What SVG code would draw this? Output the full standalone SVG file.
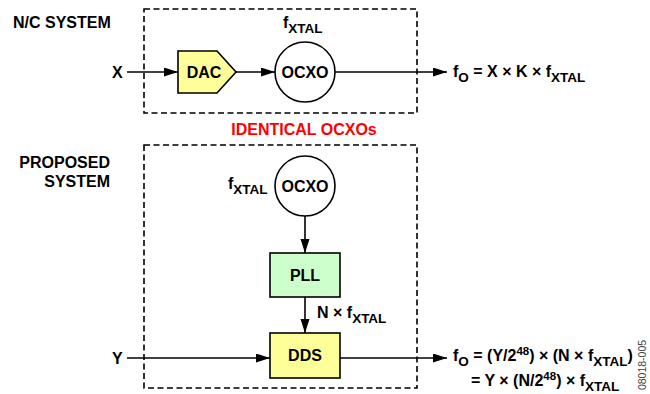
<svg xmlns="http://www.w3.org/2000/svg" width="650" height="394" viewBox="0 0 650 394">
<defs>
<marker id="ah" markerUnits="userSpaceOnUse" markerWidth="14" markerHeight="10" refX="14" refY="4.5" orient="auto">
<path d="M0,0 L14,4.5 L0,9 z" fill="#000"/>
</marker>
<style>
text{font-family:"Liberation Sans",Arial,sans-serif;font-weight:bold;font-size:16px;fill:#000}
.sub{font-size:13.5px}
.sup{font-size:11.5px}
.box{fill:none;stroke:#000;stroke-width:1.6;stroke-dasharray:6 3.5}
.node{stroke:#000;stroke-width:1.6}
.wire{fill:none;stroke:#000;stroke-width:1.6;marker-end:url(#ah)}
.c{text-anchor:middle}
</style>
</defs>
<rect fill="#fff" x="0" y="0" width="650" height="394"/>

<g id="nc-system-frame">
<rect class="box" x="144" y="9" width="273" height="104"/>
<text x="13" y="28">N/C SYSTEM</text>
</g>
<g id="proposed-system-frame">
<rect class="box" x="144" y="145" width="273" height="243"/>
<text x="110" y="168" text-anchor="end">PROPOSED</text>
<text x="110" y="187" text-anchor="end">SYSTEM</text>
</g>
<text x="304" y="135" class="c" style="fill:#ff0000">IDENTICAL OCXOs</text>

<g id="connectors">
<line class="wire" x1="127" y1="72" x2="178" y2="72"/>
<line class="wire" x1="236" y1="72" x2="275" y2="72"/>
<line class="wire" x1="335" y1="72" x2="447" y2="72"/>
<line class="wire" x1="305" y1="216" x2="305" y2="253"/>
<line class="wire" x1="305" y1="297" x2="305" y2="333"/>
<line class="wire" x1="127" y1="358" x2="270" y2="358"/>
<line class="wire" x1="340" y1="358" x2="447" y2="358"/>
</g>

<g id="x-input"><text x="112" y="77.5">X</text></g>
<g id="dac">
<polygon class="node" fill="#ffff99" points="178,51 217,51 236,72 217,93 178,93"/>
<text x="204" y="77.5" class="c">DAC</text>
</g>
<g id="ocxo-1">
<circle class="node" fill="#fff" cx="305" cy="72" r="30"/>
<text x="305" y="77.5" class="c">OCXO</text>
<text x="283" y="28">f<tspan class="sub" dy="5">XTAL</tspan></text>
</g>
<g id="output-1">
<text x="453" y="77">f<tspan class="sub" dy="5">O</tspan><tspan dy="-5"> = X × K × f</tspan><tspan class="sub" dy="5">XTAL</tspan></text>
</g>

<g id="ocxo-2">
<circle class="node" fill="#fff" cx="305" cy="186" r="30"/>
<text x="305" y="191.5" class="c">OCXO</text>
<text x="228" y="189">f<tspan class="sub" dy="5">XTAL</tspan></text>
</g>
<g id="pll">
<rect class="node" fill="#ccffcc" x="270" y="253" width="70" height="44"/>
<text x="305" y="280.5" class="c">PLL</text>
</g>
<g id="pll-label"><text x="317" y="318">N × f<tspan class="sub" dy="5">XTAL</tspan></text></g>
<g id="dds">
<rect class="node" fill="#ffff99" x="270" y="333" width="70" height="45"/>
<text x="305" y="361" class="c">DDS</text>
</g>
<g id="y-input"><text x="112" y="363.5">Y</text></g>
<g id="output-2">
<text x="453" y="361">f<tspan class="sub" dy="5">O</tspan><tspan dy="-5"> = (Y/2</tspan><tspan class="sup" dy="-6">48</tspan><tspan dy="6">) × (N × f</tspan><tspan class="sub" dy="5">XTAL</tspan><tspan dy="-5">)</tspan></text>
<text x="471" y="386">= Y × (N/2<tspan class="sup" dy="-6">48</tspan><tspan dy="6">) × f</tspan><tspan class="sub" dy="5">XTAL</tspan></text>
</g>
<text transform="translate(646,365) rotate(-90)" text-anchor="middle" style="font-weight:normal;font-size:10.5px;fill:#444">08018-005</text>
</svg>
